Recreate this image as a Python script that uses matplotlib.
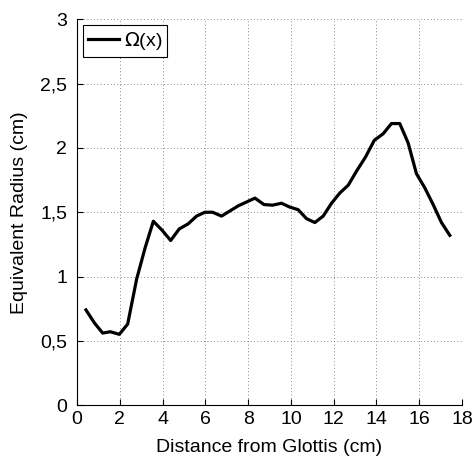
import matplotlib
matplotlib.use("Agg")
import matplotlib.pyplot as plt

plt.rcParams["font.family"] = ["Liberation Sans", "DejaVu Sans"]

# distance from glottis (cm) and equivalent radius (cm)
distance = [0.42, 0.81, 1.20, 1.56, 1.98, 2.37, 2.79, 3.18, 3.57, 3.98, 4.38,
            4.78, 5.20, 5.59, 5.98, 6.34, 6.76, 7.15, 7.54, 7.93, 8.32, 8.74,
            9.14, 9.56, 9.95, 10.34, 10.73, 11.12, 11.51, 11.90, 12.29, 12.68,
            13.07, 13.49, 13.90, 14.31, 14.70, 15.09, 15.48, 15.87, 16.26,
            16.65, 17.04, 17.43]
radius = [0.74, 0.64, 0.56, 0.57, 0.55, 0.63, 0.98, 1.22, 1.43, 1.36, 1.28,
          1.37, 1.41, 1.47, 1.50, 1.50, 1.47, 1.51, 1.55, 1.58, 1.61, 1.56,
          1.555, 1.57, 1.54, 1.52, 1.45, 1.42, 1.47, 1.57, 1.65, 1.71,
          1.82, 1.93, 2.06, 2.11, 2.19, 2.19, 2.04, 1.80, 1.69,
          1.56, 1.42, 1.32]

xticks = [0, 2, 4, 6, 8, 10, 12, 14, 16, 18]
yticks = [0, 0.5, 1, 1.5, 2, 2.5, 3]
ytick_labels = ["0", "0,5", "1", "1,5", "2", "2,5", "3"]

fig = plt.figure(figsize=(4.74, 4.59), dpi=100)
ax = fig.add_axes([0.1624, 0.1176, 0.8123, 0.84])

ax.plot(distance, radius, color="black", linewidth=2.3, label=r"$\Omega$(x)")

ax.set_xlim(0, 18)
ax.set_ylim(0, 3)
ax.set_xticks(xticks)
ax.set_yticks(yticks)
ax.set_yticklabels(ytick_labels)
ax.tick_params(direction="in", length=4, width=0.8, labelsize=14)
ax.tick_params(axis="x", pad=4)
ax.tick_params(axis="y", pad=7)
ax.spines["top"].set_visible(False)
ax.spines["right"].set_visible(False)
ax.grid(True, linestyle=(0, (1, 3)), color="#666666", linewidth=0.6)

ax.set_xlabel("Distance from Glottis (cm)", fontsize=14, labelpad=8)
ax.set_ylabel("Equivalent Radius (cm)", fontsize=14, labelpad=9)

leg = ax.legend(loc="upper left", fontsize=14, handlelength=1.6,
                handletextpad=0.25, borderpad=0.25, fancybox=False,
                framealpha=1, borderaxespad=0.3)
leg.get_frame().set_edgecolor("black")
leg.get_frame().set_linewidth(0.8)

fig.savefig("out.png", dpi=100)
